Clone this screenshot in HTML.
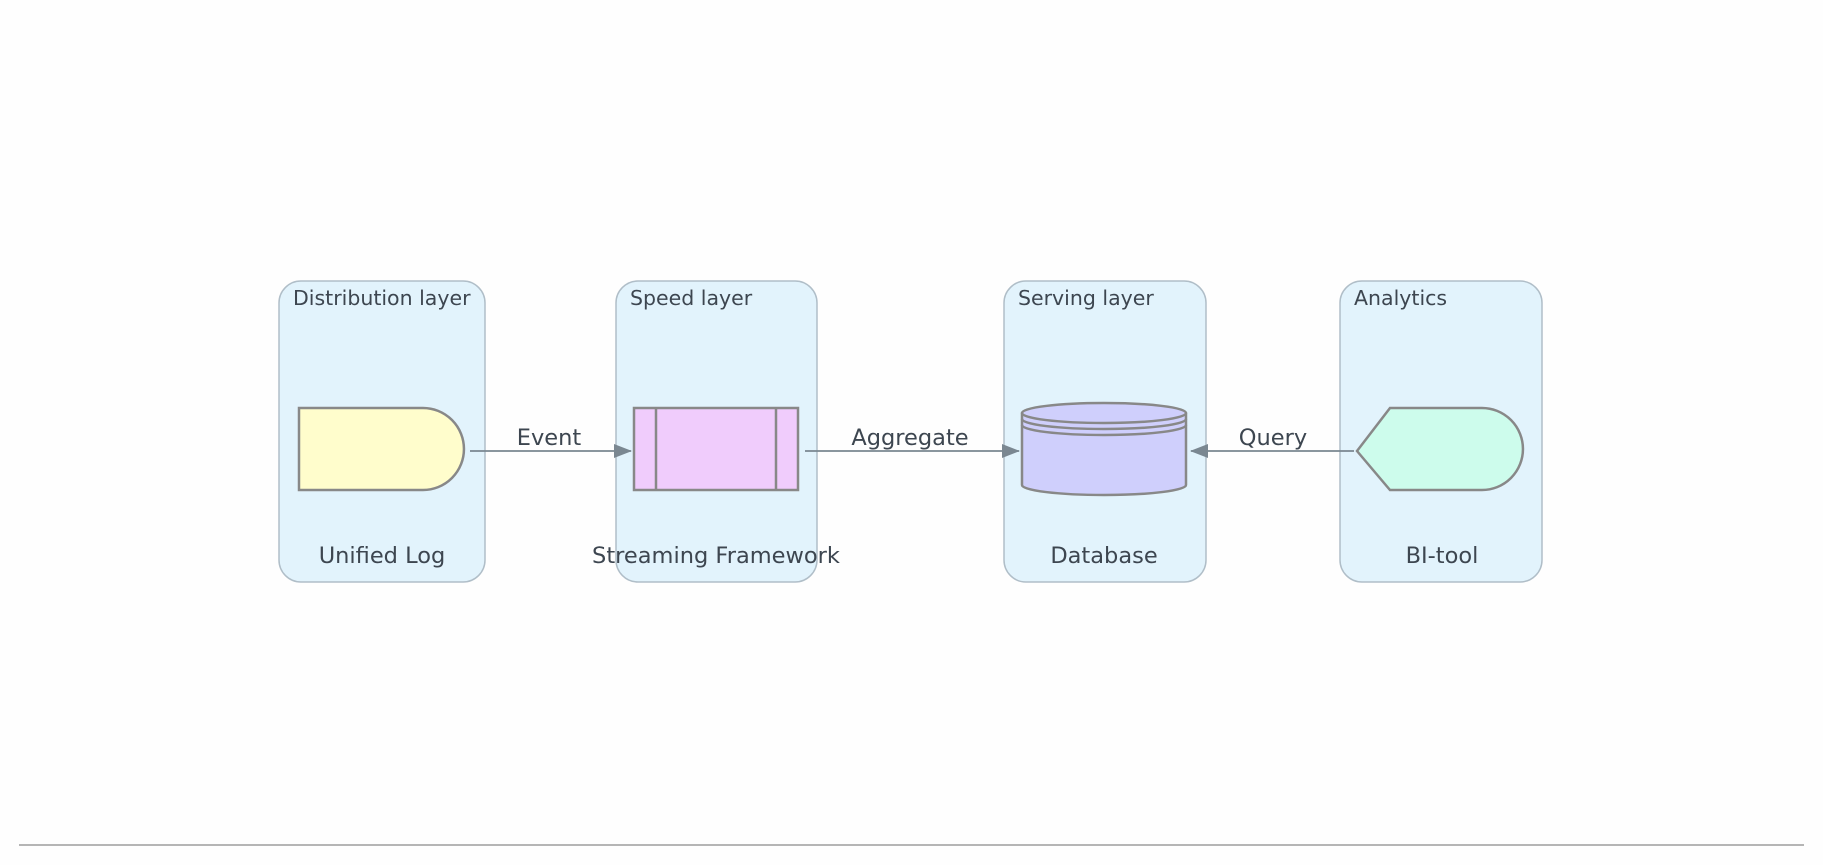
<!DOCTYPE html>
<html><head><style>
html,body{margin:0;padding:0;background:#fefefe;width:1823px;height:865px;overflow:hidden}
svg{display:block}
text{font-family:"DejaVu Sans","Liberation Sans",sans-serif;fill:#3d4650}
</style></head><body>
<svg width="1823" height="865" viewBox="0 0 1823 865">
<defs><marker id="a" markerWidth="18" markerHeight="14" refX="17" refY="7" orient="auto" markerUnits="userSpaceOnUse"><path d="M0,0 L18,7 L0,14 Z" fill="#7a8791"/></marker></defs>
<g fill="#e2f3fc" stroke="#b0bec8" stroke-width="1.5">
<rect x="279" y="281" width="206" height="301" rx="22"/>
<rect x="616" y="281" width="201" height="301" rx="22"/>
<rect x="1004" y="281" width="202" height="301" rx="22"/>
<rect x="1340" y="281" width="202" height="301" rx="22"/>
</g>
<g font-size="20.5">
<text x="293" y="305">Distribution layer</text>
<text x="630" y="305">Speed layer</text>
<text x="1018" y="305">Serving layer</text>
<text x="1354" y="305">Analytics</text>
</g>
<g font-size="22.5" text-anchor="middle">
<text x="382" y="563">Unified Log</text>
<text x="716" y="563">Streaming Framework</text>
<text x="1104" y="563">Database</text>
<text x="1442" y="563">BI-tool</text>
<text x="549" y="445">Event</text>
<text x="910" y="445">Aggregate</text>
<text x="1273" y="445">Query</text>
</g>
<g stroke="#7a8791" stroke-width="1.8" fill="none">
<line x1="470" y1="451" x2="631" y2="451" marker-end="url(#a)"/>
<line x1="805" y1="451" x2="1019" y2="451" marker-end="url(#a)"/>
<line x1="1354" y1="451" x2="1191" y2="451" marker-end="url(#a)"/>
</g>
<g stroke="#888" stroke-width="2.5">
<path d="M299,408 H423 A41,41 0 0 1 423,490 H299 Z" fill="#fffdcc"/>
<rect x="634" y="408" width="164" height="82" fill="#f0ccfc"/>
<line x1="656" y1="408" x2="656" y2="490"/><line x1="776" y1="408" x2="776" y2="490"/>
<path d="M1022,413 V485 A82,10 0 0 0 1186,485 V413" fill="#cfcffc"/>
<ellipse cx="1104" cy="413" rx="82" ry="10" fill="#cfcffc"/>
<path d="M1022,419 A82,10 0 0 0 1186,419 M1022,425 A82,10 0 0 0 1186,425" fill="none"/>
<path d="M1357,451 L1390,408 H1482 A41,41 0 0 1 1482,490 H1390 Z" fill="#cdfcec"/>
</g>
<line x1="19" y1="845" x2="1804" y2="845" stroke="#b5b5b5" stroke-width="2"/>
</svg>
</body></html>
